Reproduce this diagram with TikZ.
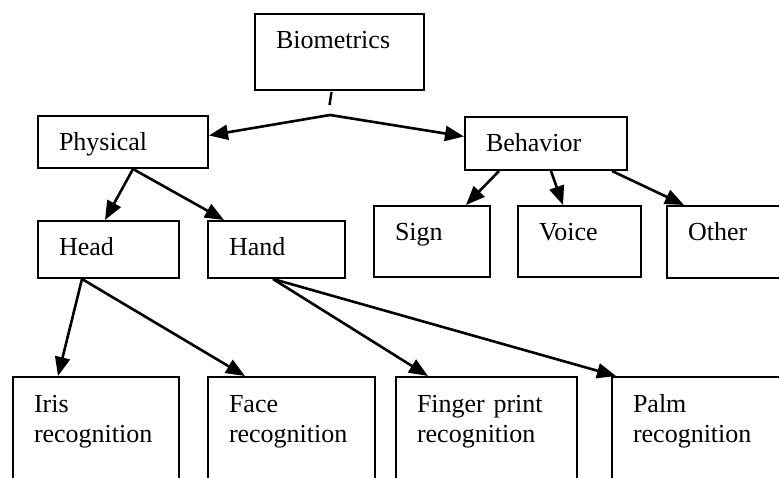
\documentclass[tikz,border=0pt]{standalone}
\usepackage{fontspec}
\setmainfont{Liberation Serif}
\usetikzlibrary{arrows.meta}

\tikzset{
  box/.style={draw, line width=2pt, anchor=north west, align=left,
    inner xsep=21pt, inner ysep=0pt, text height=35pt,
    font=\fontsize{26pt}{30pt}\selectfont},
  link/.style={->, line width=2.6pt},
}

\begin{document}
\begin{tikzpicture}[x=1pt, y=-1pt, >={Triangle[length=19pt, width=15pt]}]

  \useasboundingbox (0,0) rectangle (779,478);
  \clip (0,0) rectangle (779,478);

  % -- Root --
  \node[box, text width=127pt, text depth=41pt] (bio) at (254,13) {Biometrics};
  \coordinate (tick1) at (331.5,92);
  \coordinate (tick2) at (329.5,105);
  \coordinate (branch) at (330,115);

  % -- Level 1 --
  \node[box, text width=128pt, text depth=17pt] (phys) at (37,115) {Physical};
  \node[box, text width=120pt, text depth=18pt] (behav) at (464,116) {Behavior};

  % -- Level 2 --
  \node[box, text width=99pt, text depth=22pt] (head) at (37,220) {Head};
  \node[box, text width=95pt, text depth=22pt] (hand) at (207,220) {Hand};
  \node[box, text width=74pt, text depth=36pt] (sign) at (373,205) {Sign};
  \node[box, text width=81pt, text depth=36pt] (voice) at (517,205) {Voice};
  \node[box, text width=160pt, text depth=37pt] (other) at (666,205) {Other};

  % -- Level 3 --
  \node[box, text width=124pt, text depth=150pt] (iris) at (12,376) {Iris\\recognition};
  \node[box, text width=125pt, text depth=150pt] (face) at (207,376) {Face\\recognition};
  \node[box, text width=139pt, text depth=150pt] (finger) at (395,376) {Finger print\\recognition};
  \node[box, text width=220pt, text depth=150pt] (palm) at (611,376) {Palm\\recognition};

  % -- Root links --
  \draw[line width=2.4pt] (tick1) -- (tick2);
  \draw[link] (branch) -- ([yshift=6.5pt]phys.east);
  \draw[link] (branch) -- ([yshift=7pt]behav.west);

  % -- Physical links --
  \draw[link] ([xshift=96pt]phys.south west) -- ([xshift=68pt]head.north west);
  \draw[link] ([xshift=96pt]phys.south west) -- ([xshift=17pt]hand.north west);

  % -- Behavior links --
  \draw[link] ([xshift=35pt]behav.south west) -- ([xshift=93pt]sign.north west);
  \draw[link] ([xshift=87pt]behav.south west) -- ([xshift=46pt]voice.north west);
  \draw[link] ([xshift=148pt]behav.south west) -- ([xshift=18pt]other.north west);

  % -- Head and hand links --
  \draw[link] ([xshift=45pt]head.south west) -- ([xshift=46pt]iris.north west);
  \draw[link] ([xshift=45pt]head.south west) -- ([xshift=38pt]face.north west);
  \draw[link] ([xshift=66pt]hand.south west) -- ([xshift=33pt]finger.north west);
  \draw[link] ([xshift=66pt]hand.south west) -- ([xshift=5pt]palm.north west);

\end{tikzpicture}
\end{document}
